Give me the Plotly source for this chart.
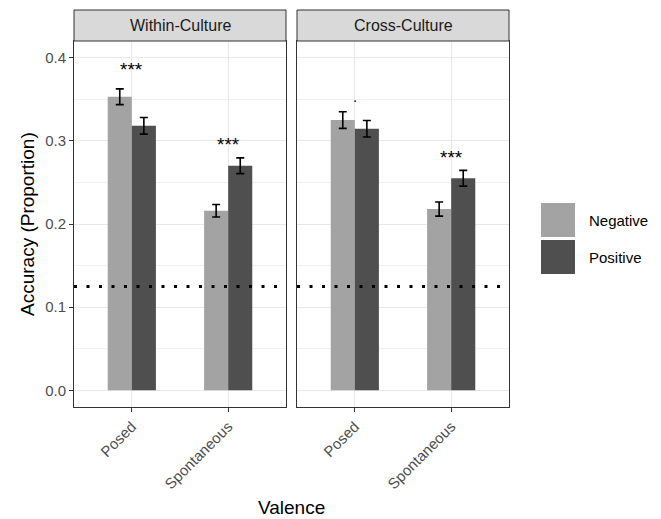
import plotly.graph_objects as go

# Data
panels = ["Within-Culture", "Cross-Culture"]
conditions = ["Posed", "Spontaneous"]
valence = ["Negative", "Positive"]

# mean accuracy per panel -> valence -> condition
acc_within_neg = [0.353, 0.216]
acc_within_pos = [0.318, 0.270]
acc_cross_neg = [0.325, 0.218]
acc_cross_pos = [0.3145, 0.255]

se_within_neg = [0.0095, 0.0075]
se_within_pos = [0.0100, 0.0095]
se_cross_neg = [0.0100, 0.0085]
se_cross_pos = [0.0100, 0.0095]

# significance markers per panel and condition
sig_within = ["***", "***"]
sig_cross = [".", "***"]
sig_within_y = [0.388, 0.298]
sig_cross_y = [0.349, 0.2825]

chance_level = 0.125

colors = {"Negative": "#A3A3A3", "Positive": "#4F4F4F"}
FONT = "Liberation Sans, Arial, sans-serif"

fig = go.Figure()

series = [
    ("x", "y", acc_within_neg, se_within_neg, acc_within_pos, se_within_pos),
    ("x2", "y2", acc_cross_neg, se_cross_neg, acc_cross_pos, se_cross_pos),
]
for xa, ya, neg, neg_se, pos, pos_se in series:
    for name, vals, err in [("Negative", neg, neg_se), ("Positive", pos, pos_se)]:
        fig.add_trace(go.Bar(
            x=conditions, y=vals, name=name, xaxis=xa, yaxis=ya,
            marker=dict(color=colors[name], line=dict(width=0)),
            error_y=dict(type="data", array=err, visible=True,
                         color="black", thickness=1.6, width=4),
            showlegend=False,
        ))

# layout geometry
L, R, T, B = 74, 152, 41, 112
W, H = 661, 519
pw = W - L - R
ph = H - T - B
gap = 11 / pw
d1 = [0, (1 - gap) / 2]
d2 = [(1 + gap) / 2, 1]

common_x = dict(
    type="category", range=[-0.6, 1.6], showgrid=True, gridcolor="#E8E8E8",
    gridwidth=1.4, showline=True, mirror=True, linecolor="#333333", linewidth=1,
    ticks="outside", ticklen=4, tickcolor="#333333", tickwidth=1,
    tickangle=-45, tickfont=dict(family=FONT, size=15, color="#4D4D4D"),
    zeroline=False,
)
common_y = dict(
    range=[-0.02, 0.42], tickvals=[0, 0.1, 0.2, 0.3, 0.4], tickformat=".1f",
    showgrid=True, gridcolor="#E8E8E8", gridwidth=1.4,
    minor=dict(dtick=0.05, tick0=0.05, showgrid=True, gridcolor="#F0F0F0", gridwidth=0.8),
    showline=True, mirror=True, linecolor="#333333", linewidth=1, zeroline=False,
)

fig.update_layout(
    width=W, height=H,
    margin=dict(l=L, r=R, t=T, b=B, pad=0),
    paper_bgcolor="white", plot_bgcolor="white",
    barmode="group", bargap=0.5, bargroupgap=0,
    font=dict(family=FONT, color="black"),
    xaxis=dict(domain=d1, anchor="y", **common_x),
    xaxis2=dict(domain=d2, anchor="y2", **common_x),
    yaxis=dict(domain=[0, 1], anchor="x", ticks="outside", ticklen=4,
               tickcolor="#333333", tickwidth=1,
               tickfont=dict(family=FONT, size=15, color="#4D4D4D"), **common_y),
    yaxis2=dict(domain=[0, 1], anchor="x2", matches="y", showticklabels=False,
                ticks="", **common_y),
    showlegend=False,
)

shapes = []
annotations = []
strip_h = 31 / ph
for dom, title in zip([d1, d2], panels):
    shapes.append(dict(type="rect", xref="paper", yref="paper",
                       x0=dom[0], x1=dom[1], y0=1, y1=1 + strip_h,
                       fillcolor="#D9D9D9", line=dict(color="#333333", width=1)))
    annotations.append(dict(text=title, xref="paper", yref="paper",
                            x=(dom[0] + dom[1]) / 2, y=1 + strip_h / 2,
                            showarrow=False, xanchor="center", yanchor="middle",
                            font=dict(family=FONT, size=16, color="#1A1A1A")))

# chance level
for xr, yr in [("x domain", "y"), ("x2 domain", "y2")]:
    shapes.append(dict(type="line", xref=xr, yref=yr, x0=0, x1=1,
                       y0=chance_level, y1=chance_level,
                       line=dict(color="black", width=3, dash="3px,9.5px")))

# significance markers (glyph offsets keep the visible mark centred on its value)
for xr, yr, labs, ys in [("x", "y", sig_within, sig_within_y),
                         ("x2", "y2", sig_cross, sig_cross_y)]:
    for cond, lab, yv in zip(conditions, labs, ys):
        if lab == ".":
            size, yshift = 15, 4
        else:
            size, yshift = 19, -2
        annotations.append(dict(text=lab, xref=xr, yref=yr, x=cond, y=yv,
                                showarrow=False, yanchor="middle", yshift=yshift,
                                font=dict(family=FONT, size=size, color="black")))

# legend keys
def py(px):
    return (H - B - px) / ph

def pxx(px):
    return (px - L) / pw

for name, top in [("Negative", 203), ("Positive", 240)]:
    shapes.append(dict(type="rect", xref="paper", yref="paper",
                       x0=pxx(541), x1=pxx(575), y0=py(top + 34), y1=py(top),
                       fillcolor=colors[name], line=dict(width=0)))
    annotations.append(dict(text=name, xref="paper", yref="paper",
                            x=pxx(587), y=py(top + 17), showarrow=False,
                            xanchor="left", yanchor="middle",
                            font=dict(family=FONT, size=15, color="black")))

# axis titles
annotations.append(dict(text="Accuracy (Proportion)", xref="paper", yref="paper",
                        x=pxx(27), y=py(224), textangle=-90, showarrow=False,
                        xanchor="center", yanchor="middle",
                        font=dict(family=FONT, size=19, color="black")))
annotations.append(dict(text="Valence", xref="paper", yref="paper",
                        x=pxx(291.5), y=py(507), showarrow=False,
                        xanchor="center", yanchor="middle",
                        font=dict(family=FONT, size=19, color="black")))

fig.update_layout(shapes=shapes, annotations=annotations)
fig.write_html("out.html")
